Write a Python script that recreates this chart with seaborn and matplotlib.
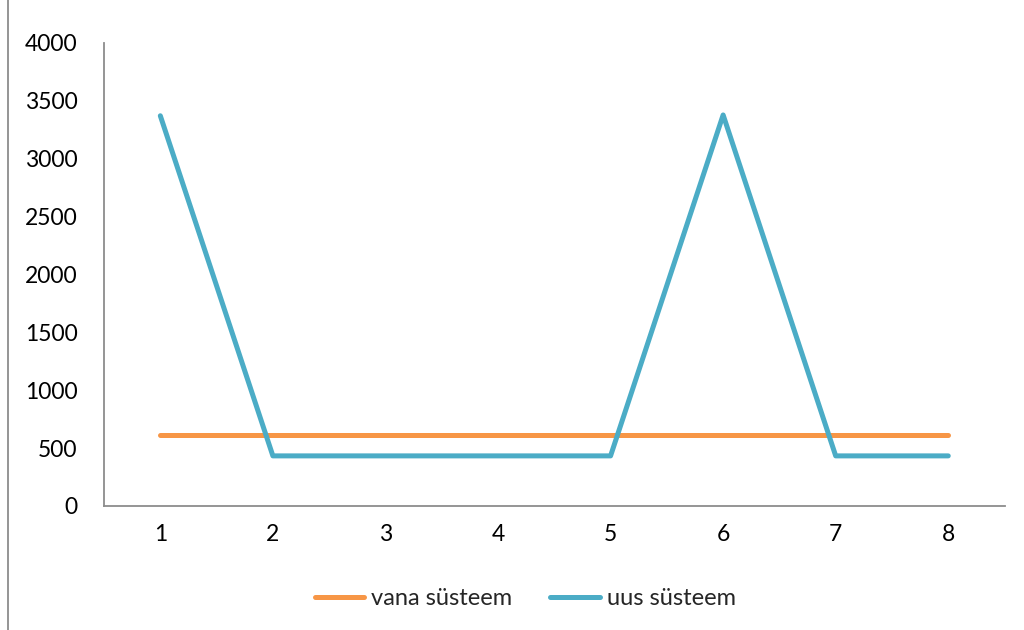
import numpy as np
import pandas as pd
import matplotlib.pyplot as plt
import seaborn as sns
from matplotlib.lines import Line2D

# values
runs = [1, 2, 3, 4, 5, 6, 7, 8]
vana = [610, 610, 610, 610, 610, 610, 610, 610]
uus = [3370, 432, 432, 432, 432, 3377, 432, 432]
names = ['vana süsteem', 'uus süsteem']
colors = ['#F79646', '#4BACC6']

df = pd.DataFrame({
    'run': runs * 2,
    'value': vana + uus,
    'series': [names[0]] * len(runs) + [names[1]] * len(runs),
})

sns.set_style('white')
plt.rcParams['font.family'] = ['Lato', 'DejaVu Sans']

fig = plt.figure(figsize=(10.24, 6.3), dpi=100)
ax = fig.add_axes([0.1016, 0.197, 0.8794, 0.735])

sns.lineplot(data=df, x='run', y='value', hue='series', palette=colors,
             linewidth=3.6, ax=ax, legend=False)

ax.set_xlim(0.5, 8.5)
ax.set_ylim(0, 4000)
ax.set_yticks(np.arange(0, 4001, 500))
ax.set_xticks(runs)
ax.set_xlabel('')
ax.set_ylabel('')
ax.tick_params(axis='both', length=0, labelsize=16.5, colors='black')
ax.tick_params(axis='x', pad=13)
ax.tick_params(axis='y', pad=19)
for s in ['top', 'right']:
    ax.spines[s].set_visible(False)
for s in ['left', 'bottom']:
    ax.spines[s].set_color('#8c8c8c')
    ax.spines[s].set_linewidth(1.3)

handles = [Line2D([], [], color=c, linewidth=3.6) for c in colors]
fig.legend(handles, names, loc='center', bbox_to_anchor=(0.513, 0.05), ncol=2,
           frameon=False, fontsize=17, handlelength=2.1, columnspacing=1.6,
           handletextpad=0.3)

# outer chart border on the left
fig.add_artist(Line2D([0.008, 0.008], [0, 1], color='#8c8c8c', linewidth=1.3,
                      transform=fig.transFigure))

fig.savefig('out.png', dpi=100)
